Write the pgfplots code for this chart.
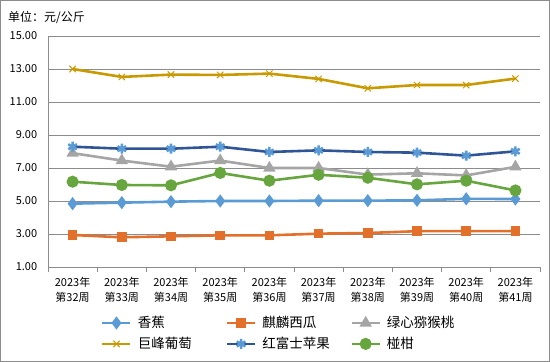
\documentclass[border=0pt]{standalone}
\usepackage{pgfplots}
\pgfplotsset{compat=1.18}
\usepackage{fontspec}
\setmainfont{Noto Sans CJK SC}
\definecolor{cbanana}{HTML}{5B9BD5}
\definecolor{cmelon}{HTML}{E2702A}
\definecolor{ckiwi}{HTML}{A5A5A5}
\definecolor{cgrape}{HTML}{C99A00}
\definecolor{capple}{HTML}{2F5597}
\definecolor{cmand}{HTML}{67A53F}
\definecolor{cgrid}{HTML}{8C8C8C}
\newcommand{\legtxt}[1]{\makebox[86pt][l]{#1}}
\begin{document}
\begin{tikzpicture}[x=1pt,y=1pt]
\draw[color=cgrid, line width=1pt] (0.5,0.5) rectangle (549.5,361.5);
\node[anchor=west, inner sep=0pt, font=\fontsize{12}{14}\selectfont] at (8,345) {单位：元/公斤};
\begin{axis}[
  at={(48pt,95pt)}, anchor=south west, scale only axis,
  width=492pt, height=231pt,
  xmin=-0.5, xmax=9.5, ymin=1, ymax=15,
  axis lines*=left,
  axis line style={cgrid, line width=0.8pt},
  xtick={0,...,9},
  xticklabels={{2023年\\第32周},{2023年\\第33周},{2023年\\第34周},{2023年\\第35周},{2023年\\第36周},{2023年\\第37周},{2023年\\第38周},{2023年\\第39周},{2023年\\第40周},{2023年\\第41周}},
  x tick label style={align=center, font=\fontsize{11}{15}\selectfont, yshift=-2pt},
  minor xtick={-0.5,0.5,...,9.5},
  major x tick style={draw=none},
  minor x tick style={draw=cgrid, line width=0.8pt},
  minor tick length=5pt,
  tick align=outside,
  ytick={1,3,...,15},
  ytick style={draw=none},
  y tick label style={font=\fontsize{11}{13}\selectfont, xshift=-3pt},
  yticklabel style={/pgf/number format/.cd, fixed, fixed zerofill, precision=2, assume math mode=true},
  ymajorgrids=true,
  grid style={cgrid, line width=0.8pt},
  legend columns=3,
  legend style={at={(0.1077,-0.205)}, anchor=north west, draw=none, fill=none,
    font=\fontsize{13.5}{15}\selectfont, inner sep=0pt,
    /tikz/every odd column/.append style={column sep=4pt},
    /tikz/row sep=4pt},
  legend cell align=left,
  legend image code/.code={\draw[mark repeat=2,mark phase=2] plot coordinates {(0pt,0pt)(14pt,0pt)(28pt,0pt)};},
  every axis plot/.append style={line width=2.6pt, mark options={solid, line width=1pt}},
]
\addplot[cbanana, mark=diamond*, mark size=4.5pt, mark options={fill=cbanana}] coordinates {(0,4.84)(1,4.90)(2,4.96)(3,5.00)(4,5.00)(5,5.02)(6,5.02)(7,5.04)(8,5.13)(9,5.12)};
\addlegendentry{\legtxt{香蕉}}
\addplot[cmelon, mark=square*, mark size=3.5pt, mark options={fill=cmelon}] coordinates {(0,2.94)(1,2.80)(2,2.86)(3,2.92)(4,2.92)(5,3.02)(6,3.06)(7,3.17)(8,3.17)(9,3.17)};
\addlegendentry{\legtxt{麒麟西瓜}}
\addplot[ckiwi, mark=triangle*, mark size=4.6pt, mark options={fill=ckiwi}] coordinates {(0,7.90)(1,7.45)(2,7.08)(3,7.45)(4,7.00)(5,7.00)(6,6.60)(7,6.68)(8,6.55)(9,7.07)};
\addlegendentry{\legtxt{绿心猕猴桃}}
\addplot[cgrape, mark=x, mark size=4.5pt] coordinates {(0,13.00)(1,12.52)(2,12.66)(3,12.64)(4,12.72)(5,12.40)(6,11.83)(7,12.03)(8,12.03)(9,12.42)};
\addlegendentry{\legtxt{巨峰葡萄}}
\addplot[capple, mark=asterisk, mark size=5pt, mark options={draw=cbanana}] coordinates {(0,8.29)(1,8.17)(2,8.17)(3,8.29)(4,7.97)(5,8.07)(6,7.97)(7,7.93)(8,7.75)(9,8.01)};
\addlegendentry{\legtxt{红富士苹果}}
\addplot[cmand, mark=*, mark size=4.7pt, mark options={fill=cmand}] coordinates {(0,6.17)(1,5.97)(2,5.95)(3,6.70)(4,6.23)(5,6.59)(6,6.41)(7,6.01)(8,6.23)(9,5.64)};
\addlegendentry{\legtxt{椪柑}}
\end{axis}
\end{tikzpicture}
\end{document}
